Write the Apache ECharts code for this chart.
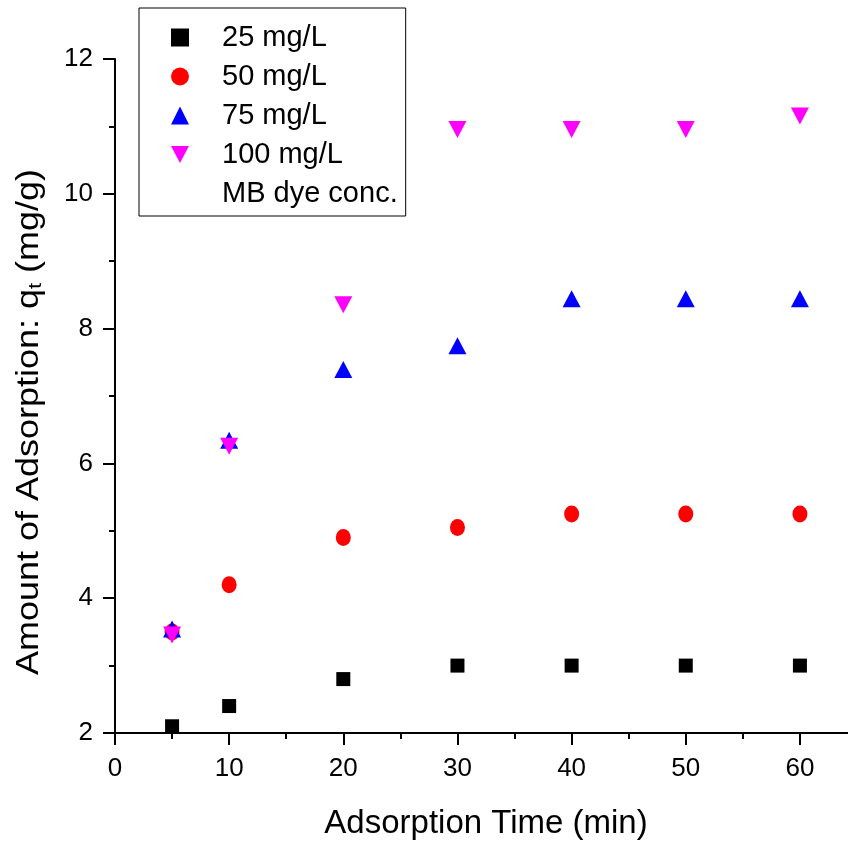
<!DOCTYPE html>
<html>
<head>
<meta charset="utf-8">
<script src="https://cdn.jsdelivr.net/npm/echarts@6/dist/echarts.min.js"></script>
<style>html,body{margin:0;padding:0;background:#fff}#c{width:848px;height:850px}</style>
</head>
<body>
<div id="c"></div>
<script>
const time = [5, 10, 20, 30, 40, 50, 60];
const q25 = [2.1, 2.4, 2.8, 3.0, 3.0, 3.0, 3.0];
const q50 = [3.5, 4.2, 4.9, 5.05, 5.25, 5.25, 5.25];
const q75 = [3.5, 6.3, 7.35, 7.7, 8.4, 8.4, 8.4];
const q100 = [3.5, 6.3, 8.4, 11.0, 11.0, 11.0, 11.2];
const seriesNames = ['25 mg/L', '50 mg/L', '75 mg/L', '100 mg/L'];
const legendNote = 'MB dye conc.';
const xTitle = 'Adsorption Time (min)';
const yTitle = 'Amount of Adsorption: q{sub|t} (mg/g)';

const FONT = '"Liberation Sans", Arial, sans-serif';
const pairs = arr => time.map((t, i) => [t, arr[i]]);
const downTri = 'path://M0,0L20,0L10,19Z';

const chart = echarts.init(document.getElementById('c'), null, {renderer: 'canvas'});
const axisCommon = {
  axisLine: {show: true, lineStyle: {color: '#000', width: 2}},
  axisTick: {show: true, inside: false, length: 12, lineStyle: {color: '#000', width: 2}},
  minorTick: {show: true, splitNumber: 2, length: 6, lineStyle: {color: '#000', width: 2}},
  splitLine: {show: false},
  minorSplitLine: {show: false}
};
chart.setOption({
  animation: false,
  backgroundColor: '#fff',
  grid: {left: 115, top: 59, width: 742, height: 674, containLabel: false, outerBoundsMode: 'none'},
  xAxis: Object.assign({
    type: 'value', min: 0, max: 65, interval: 10,
    name: xTitle, nameLocation: 'middle', nameGap: 74,
    nameTextStyle: {fontFamily: FONT, fontSize: 33, color: '#000'},
    axisLabel: {fontFamily: FONT, fontSize: 26, color: '#000', margin: 23,
      formatter: v => (v % 10 === 0 ? String(v) : '')}
  }, axisCommon),
  yAxis: Object.assign({
    type: 'value', min: 2, max: 12, interval: 2,
    axisLabel: {fontFamily: FONT, fontSize: 26, color: '#000', margin: 22}
  }, axisCommon),
  legend: {
    orient: 'vertical', left: 139, top: 8,
    padding: [15, 8, 8, 32],
    itemWidth: 18, itemHeight: 18, itemGap: 10,
    symbolKeepAspect: true,
    borderColor: '#000', borderWidth: 1, borderRadius: 0,
    selectedMode: false,
    textStyle: {fontFamily: FONT, fontSize: 29, color: '#000', padding: [0, 0, 0, 28]},
    data: [seriesNames[0], seriesNames[1], seriesNames[2], seriesNames[3], legendNote]
  },
  graphic: [{
    type: 'text', x: 29, y: 422, rotation: Math.PI / 2, scaleX: 1.16, scaleY: 1,
    style: {
      text: yTitle, fill: '#000', fontFamily: FONT, fontSize: 31,
      align: 'center', verticalAlign: 'middle',
      rich: {sub: {fontFamily: FONT, fontSize: 19, fill: '#000', padding: [14, 0, 0, 0]}}
    }
  }],
  series: [
    {name: seriesNames[0], type: 'scatter', data: pairs(q25), symbol: 'rect', symbolSize: 14,
      itemStyle: {color: '#000000', opacity: 1}},
    {name: seriesNames[1], type: 'scatter', data: pairs(q50), symbol: 'circle', symbolSize: [15, 17], symbolKeepAspect: false,
      itemStyle: {color: '#ff0000', opacity: 1}},
    {name: seriesNames[2], type: 'scatter', data: pairs(q75), symbol: 'triangle', symbolSize: [18, 17], symbolOffset: [0, -3],
      itemStyle: {color: '#0000ff', opacity: 1}},
    {name: seriesNames[3], type: 'scatter', data: pairs(q100), symbol: downTri, symbolSize: [18, 17], symbolOffset: [0, 3],
      itemStyle: {color: '#ff00ff', opacity: 1}},
    {name: legendNote, type: 'scatter', data: [], symbol: 'rect', itemStyle: {color: 'rgba(0,0,0,0)'}}
  ]
});
</script>
</body>
</html>
